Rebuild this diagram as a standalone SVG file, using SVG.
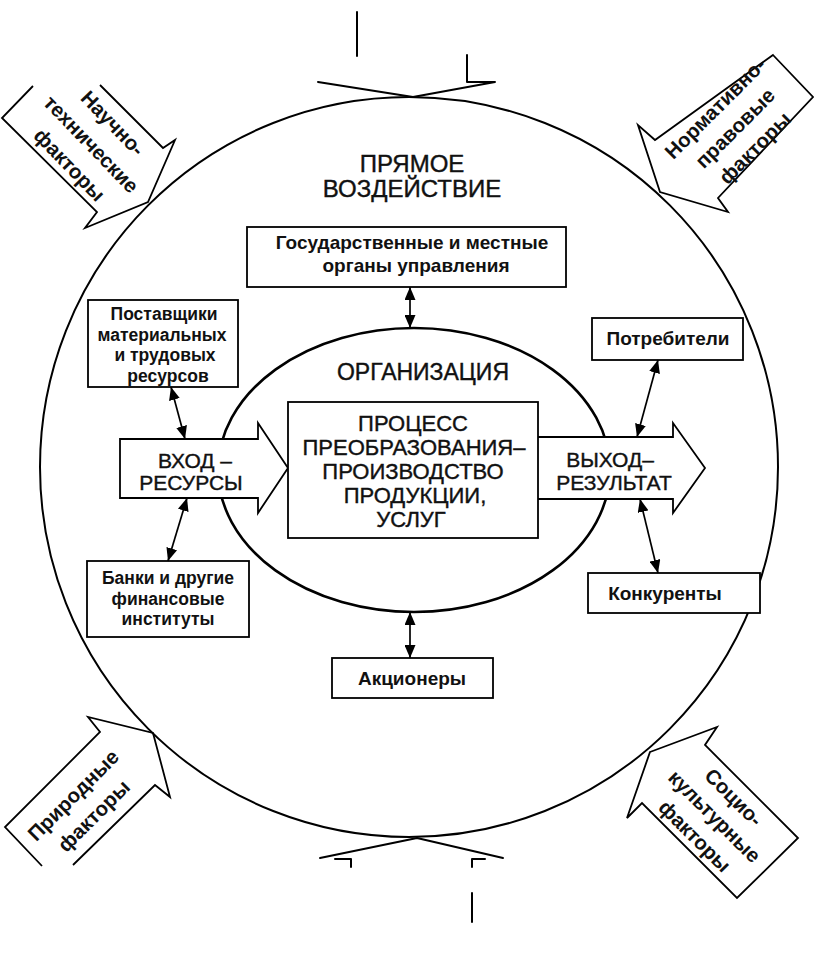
<svg xmlns="http://www.w3.org/2000/svg" width="818" height="964" viewBox="0 0 818 964">
<style>
 .ln{fill:none;stroke:#000;stroke-width:2;stroke-linejoin:round;stroke-linecap:round}
 .bx{fill:#fff;stroke:#000;stroke-width:1.8}
 .fa{fill:none;stroke:#000;stroke-width:1.8;stroke-linejoin:miter}
 .ar{fill:#fff;stroke:#000;stroke-width:1.8;stroke-linejoin:miter}
 text{font-family:"Liberation Sans",Arial,sans-serif;fill:#111}
 .s{font-size:19px;font-weight:bold;text-anchor:middle}
 .s2{font-size:17.5px;font-weight:bold;text-anchor:middle}
 .c{font-size:22px;text-anchor:middle;stroke:#111;stroke-width:0.4}
 .a{font-size:21px;text-anchor:middle;stroke:#111;stroke-width:0.4}
 .t{font-size:24px;text-anchor:middle;stroke:#111;stroke-width:0.4}
 .f{font-size:20.5px;font-weight:bold;text-anchor:middle;dominant-baseline:central}
 .cn{stroke:#000;stroke-width:1.7;fill:none}
</style>
<defs>
 <marker id="ah" markerUnits="userSpaceOnUse" viewBox="0 0 13 11" refX="13" refY="5.5" markerWidth="13" markerHeight="11" orient="auto-start-reverse"><path d="M0,0 L13,5.5 L0,11 z" fill="#000"/></marker>
</defs>
<rect width="818" height="964" fill="#fff"/>

<g id="environment">
 <ellipse cx="409" cy="467" rx="369" ry="370" class="ln"/>
 <path class="ln" d="M318,82 L413,97 L495,82 L467,82 L467,55 M357,12 L357,56"/>
 <path class="ln" d="M320,858 L417,838 L503,858 M335,859 L351,859 L351,867 M472,867 L472,859 L485,859 M472,893 L472,922"/>
 <text class="t" x="412" y="172">ПРЯМОЕ</text>
 <text class="t" x="412" y="197">ВОЗДЕЙСТВИЕ</text>
</g>

<g id="factor-science">
 <path class="fa" d="M33,86 L2,118 L97,212 L85,228 L148,202 L175,140 L163,148 L100,85"/>
 <g transform="translate(113,123) rotate(46)">
  <text class="f" x="0" y="0">Научно-</text>
  <text class="f" x="0" y="30">технические</text>
  <text class="f" x="0" y="60">факторы</text>
 </g>
</g>

<g id="factor-legal">
 <path class="fa" d="M773,55 L813,97 L718,198 L728,212 L660,192 L638,125 L655,140 Z"/>
 <g transform="translate(715,108) rotate(-45)">
  <text class="f" x="0" y="0">Нормативно-</text>
  <text class="f" x="0" y="28">правовые</text>
  <text class="f" x="0" y="56">факторы</text>
 </g>
</g>

<g id="factor-nature">
 <path class="fa" d="M42,866 L5,827 L100,732 L88,717 L153,733 L170,797 L155,785 L73,865"/>
 <g transform="translate(73,795) rotate(-45)">
  <text class="f" x="0" y="0">Природные</text>
  <text class="f" x="0" y="29">факторы</text>
 </g>
</g>

<g id="factor-social">
 <path class="fa" d="M650,752 L717,727 L705,745 L798,838 L737,898 L642,803 L627,818 Z"/>
 <g transform="translate(734,797) rotate(45)">
  <text class="f" x="0" y="0">Социо-</text>
  <text class="f" x="0" y="27">культурные</text>
  <text class="f" x="0" y="55">факторы</text>
 </g>
</g>

<g id="organization">
 <ellipse cx="414" cy="470" rx="196" ry="142" fill="none" stroke="#000" stroke-width="2.6"/>
 <text class="a" x="423" y="380" style="font-size:23px">ОРГАНИЗАЦИЯ</text>
</g>

<g id="input">
 <path class="ar" d="M120,439 L258,439 L258,423 L288,468 L258,513 L258,498 L120,498 Z"/>
 <text class="a" x="195" y="468">ВХОД –</text>
 <text class="a" x="191" y="490">РЕСУРСЫ</text>
</g>

<g id="output">
 <path class="ar" d="M538,437 L673,437 L673,423 L705,468 L673,513 L673,499 L538,499"/>
 <text class="a" x="610" y="467">ВЫХОД–</text>
 <text class="a" x="614" y="490">РЕЗУЛЬТАТ</text>
</g>

<g id="process">
 <rect class="bx" x="288" y="402" width="250" height="136"/>
 <text class="c" x="413" y="431">ПРОЦЕСС</text>
 <text class="c" x="414" y="455">ПРЕОБРАЗОВАНИЯ–</text>
 <text class="c" x="413" y="479">ПРОИЗВОДСТВО</text>
 <text class="c" x="415" y="503">ПРОДУКЦИИ,</text>
 <text class="c" x="411" y="527">УСЛУГ</text>
</g>

<g id="government">
 <rect class="bx" x="247" y="227" width="319" height="60"/>
 <text class="s" x="412" y="249">Государственные и местные</text>
 <text class="s" x="416" y="272">органы управления</text>
</g>

<g id="suppliers">
 <rect class="bx" x="88" y="300" width="150" height="87"/>
 <text class="s2" x="164" y="320">Поставщики</text>
 <text class="s2" x="162" y="340.5">материальных</text>
 <text class="s2" x="165" y="361">и трудовых</text>
 <text class="s2" x="168" y="381.5">ресурсов</text>
</g>

<g id="banks">
 <rect class="bx" x="87" y="561" width="162" height="76"/>
 <text class="s2" x="168" y="584">Банки и другие</text>
 <text class="s2" x="168" y="604.5">финансовые</text>
 <text class="s2" x="168" y="625">институты</text>
</g>

<g id="consumers">
 <rect class="bx" x="592" y="318" width="151" height="42"/>
 <text class="s" x="668" y="345">Потребители</text>
</g>

<g id="competitors">
 <rect class="bx" x="588" y="573" width="172" height="40"/>
 <text class="s" x="665" y="600">Конкуренты</text>
</g>

<g id="shareholders">
 <rect class="bx" x="332" y="658" width="161" height="40"/>
 <text class="s" x="412" y="685">Акционеры</text>
</g>

<g id="connectors" class="cn">
 <line x1="410" y1="287" x2="410" y2="328" marker-start="url(#ah)" marker-end="url(#ah)"/>
 <line x1="410" y1="612" x2="410" y2="658" marker-start="url(#ah)" marker-end="url(#ah)"/>
 <line x1="171" y1="387" x2="185" y2="439" marker-start="url(#ah)" marker-end="url(#ah)"/>
 <line x1="187" y1="498" x2="168" y2="561" marker-start="url(#ah)" marker-end="url(#ah)"/>
 <line x1="658" y1="360" x2="637" y2="437" marker-start="url(#ah)" marker-end="url(#ah)"/>
 <line x1="640" y1="499" x2="658" y2="573" marker-start="url(#ah)" marker-end="url(#ah)"/>
</g>
</svg>
